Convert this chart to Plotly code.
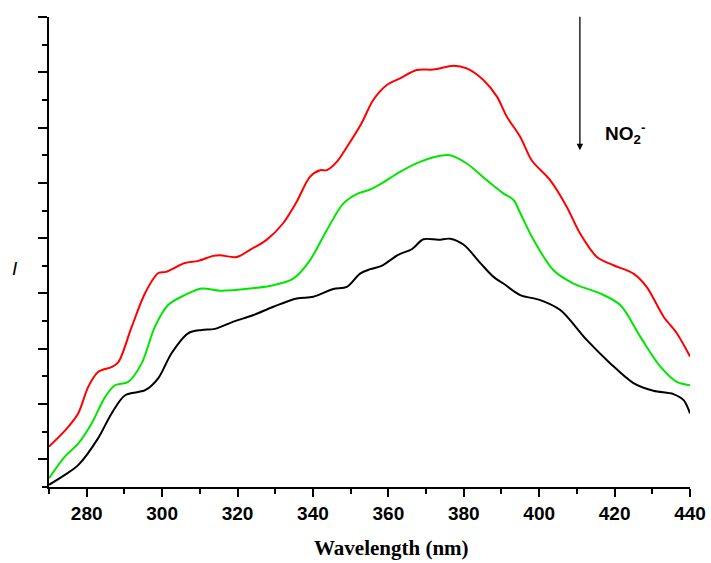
import plotly.graph_objects as go

# Red curve (highest intensity)
red_x = [270, 275, 277.8, 280.4, 283, 286.6, 288.4, 291.9, 295.5, 299, 301, 306, 309.6, 313.6,
         315.4, 319.8, 323.3, 327.7, 332.1, 335.7, 339.2, 341.9, 343.7, 346.3, 349, 352.9, 356,
         359.6, 363.1, 367.5, 372, 377.3, 380.8, 385.2, 388.8, 391.4, 395, 398, 402.9, 407.3,
         410.8, 415.3, 419.7, 425, 428.5, 433, 436.5, 440]
red_y = [0.73, 1.08, 1.34, 1.81, 2.08, 2.17, 2.26, 2.89, 3.51, 3.87, 3.89, 4.05, 4.09, 4.18,
         4.19, 4.16, 4.29, 4.47, 4.77, 5.16, 5.61, 5.73, 5.73, 5.88, 6.15, 6.58, 7.00,
         7.27, 7.39, 7.54, 7.55, 7.62, 7.57, 7.36, 7.06, 6.70, 6.33, 5.91, 5.55, 5.07,
         4.59, 4.16, 4.01, 3.86, 3.62, 3.08, 2.78, 2.36]

# Green curve
green_x = [270, 274.2, 277.8, 281.3, 284.9, 287.5, 291, 294.6, 298.1, 301.6, 306, 310.5, 315.4,
           323.3, 329.5, 334.8, 339.2, 343.7, 348.1, 352, 355.2, 358.2, 363.1, 368.4, 373.7,
           376.4, 380.8, 386.1, 390.5, 393.2, 395, 398.5, 403.8, 409.1, 416.2, 421.5, 426.8,
           432.1, 436.5, 440]
green_y = [0.16, 0.55, 0.79, 1.15, 1.63, 1.84, 1.90, 2.24, 2.90, 3.29, 3.47, 3.59, 3.55,
           3.59, 3.65, 3.77, 4.10, 4.65, 5.13, 5.31, 5.38, 5.49, 5.70, 5.88, 5.99,
           6.00, 5.85, 5.55, 5.31, 5.19, 4.95, 4.47, 3.92, 3.68, 3.50, 3.29, 2.72,
           2.18, 1.90, 1.84]

# Black curve (lowest intensity)
black_x = [270, 274.2, 277.8, 283, 286.6, 290.2, 295.5, 299, 302.5, 306.9, 310.5, 314, 318.9,
           324.2, 329.5, 335.7, 340.1, 345.4, 349, 352.5, 355.2, 358.2, 362.6, 366.2, 369.3,
           373.3, 376.4, 380, 384.4, 387.9, 390.5, 395, 400.3, 405.6, 412.6, 418.8, 425,
           430.3, 435.6, 438.3, 440]
black_y = [0.04, 0.22, 0.40, 0.88, 1.33, 1.66, 1.75, 1.97, 2.42, 2.78, 2.84, 2.86, 2.99,
           3.11, 3.26, 3.41, 3.44, 3.58, 3.62, 3.86, 3.94, 4.00, 4.20, 4.30, 4.48,
           4.47, 4.49, 4.38, 4.05, 3.80, 3.68, 3.47, 3.38, 3.20, 2.66, 2.24, 1.88,
           1.74, 1.68, 1.57, 1.33]

fig = go.Figure()
for xs, ys, col in [(black_x, black_y, "#000000"), (green_x, green_y, "#00e600"), (red_x, red_y, "#ff0000")]:
    fig.add_trace(go.Scatter(x=xs, y=ys, mode="lines",
                             line=dict(color=col, width=2, shape="spline", smoothing=0.9),
                             showlegend=False, hoverinfo="skip"))

fig.update_layout(
    width=711, height=563,
    margin=dict(l=49, r=21, t=17, b=76, autoexpand=False),
    paper_bgcolor="white", plot_bgcolor="white",
    font=dict(family="Liberation Sans, Arial, sans-serif", color="black"),
    xaxis=dict(
        range=[270, 440], showgrid=False, zeroline=False, automargin=False,
        showline=True, linecolor="black", linewidth=2,
        ticks="outside", ticklen=8, tickwidth=1.5, tickcolor="black",
        tick0=280, dtick=20,
        tickfont=dict(size=19, family="Liberation Sans, Arial, sans-serif", weight="bold"),
        minor=dict(ticks="outside", ticklen=5, tickwidth=1.5, tickcolor="black", tick0=270, dtick=10),
    ),
    yaxis=dict(
        range=[0, 8.5001], showgrid=False, zeroline=False, automargin=False,
        showline=True, linecolor="black", linewidth=2,
        ticks="outside", ticklen=9, tickwidth=1.5, tickcolor="black",
        tick0=0.5, dtick=1, showticklabels=False,
        minor=dict(ticks="outside", ticklen=5, tickwidth=1.5, tickcolor="black", tick0=0, dtick=1),
    ),
)

# x-axis title (offset to the right as in the reference)
fig.add_annotation(text="<b>Wavelength (nm)</b>", xref="paper", yref="paper", x=0.535, y=-0.13,
                   showarrow=False, xanchor="center", yanchor="middle",
                   font=dict(size=21, family="Liberation Serif, Times New Roman, serif", color="black"))

# y-axis label "I"
fig.add_annotation(text="<i>I</i>", xref="paper", yref="paper", x=-0.053, y=0.465,
                   showarrow=False, font=dict(size=19, family="Liberation Sans, Arial, sans-serif"),
                   xanchor="center", yanchor="middle")

# downward arrow
fig.add_annotation(x=410.8, y=6.09, xref="x", yref="y", ax=0, ay=-135, axref="pixel", ayref="pixel",
                   showarrow=True, arrowhead=2, arrowsize=1.0, arrowwidth=1.3, arrowcolor="black", text="")

# NO2- label
fig.add_annotation(x=422.8, y=6.40, xref="x", yref="y", showarrow=False,
                   text="<b>NO<sub>2</sub><sup>-</sup></b>",
                   font=dict(size=19, family="Liberation Sans, Arial, sans-serif", color="black"))

fig.write_html("out.html")
